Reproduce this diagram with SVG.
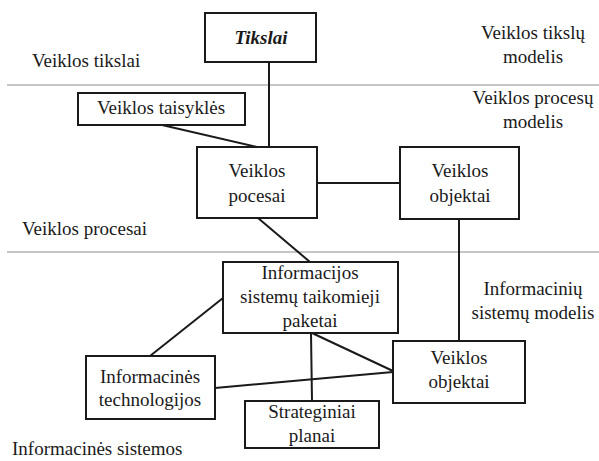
<svg xmlns="http://www.w3.org/2000/svg" width="599" height="461" viewBox="0 0 599 461" font-family="Liberation Serif, DejaVu Serif, serif" font-size="19">
  <style>
    .box { fill: #fff; stroke: #1a1a1a; stroke-width: 2; }
    .link { stroke: #1a1a1a; stroke-width: 2; fill: none; }
    .sep { stroke: #8c8c8c; stroke-width: 1.2; }
    text { fill: #1a1a1a; }
    .c { text-anchor: middle; }
    .title { font-weight: bold; font-style: italic; }
  </style>

  <!-- layer separators -->
  <g id="separators">
    <line class="sep" x1="7" y1="85" x2="599" y2="85"/>
    <line class="sep" x1="7" y1="252" x2="599" y2="252"/>
  </g>

  <!-- layer labels -->
  <g id="labels">
    <text x="32" y="67">Veiklos tikslai</text>
    <text x="22" y="235">Veiklos procesai</text>
    <text x="12" y="455">Informacinės sistemos</text>
    <text class="c" x="533" y="39">Veiklos tikslų</text>
    <text class="c" x="533" y="63">modelis</text>
    <text class="c" x="533" y="104">Veiklos procesų</text>
    <text class="c" x="533" y="128">modelis</text>
    <text class="c" x="533" y="295">Informacinių</text>
    <text class="c" x="533" y="319">sistemų modelis</text>
  </g>

  <!-- connectors -->
  <g id="connectors">
    <line class="link" x1="269" y1="62" x2="269" y2="147"/>
    <line class="link" x1="162" y1="125" x2="257" y2="147"/>
    <line class="link" x1="317" y1="183" x2="400" y2="183"/>
    <line class="link" x1="459" y1="219" x2="459" y2="341"/>
    <line class="link" x1="258" y1="218" x2="310" y2="262"/>
    <line class="link" x1="223" y1="298" x2="150" y2="356"/>
    <line class="link" x1="311" y1="333" x2="312" y2="401"/>
    <line class="link" x1="312" y1="333" x2="393" y2="371"/>
    <line class="link" x1="215" y1="388" x2="393" y2="372"/>
  </g>

  <!-- nodes -->
  <g id="tikslai">
    <rect class="box" x="205" y="13" width="111" height="49"/>
    <text class="c title" x="261" y="44">Tikslai</text>
  </g>
  <g id="veiklos-taisykles">
    <rect class="box" x="78" y="93" width="167" height="32"/>
    <text class="c" x="161" y="114">Veiklos taisyklės</text>
  </g>
  <g id="veiklos-pocesai">
    <rect class="box" x="197" y="147" width="120" height="71"/>
    <text class="c" x="257" y="177">Veiklos</text>
    <text class="c" x="257" y="202">pocesai</text>
  </g>
  <g id="veiklos-objektai-top">
    <rect class="box" x="400" y="147" width="119" height="72"/>
    <text class="c" x="460" y="177">Veiklos</text>
    <text class="c" x="460" y="202">objektai</text>
  </g>
  <g id="is-taikomieji-paketai">
    <rect class="box" x="223" y="262" width="175" height="71"/>
    <text class="c" x="310" y="279">Informacijos</text>
    <text class="c" x="310" y="303">sistemų taikomieji</text>
    <text class="c" x="310" y="327">paketai</text>
  </g>
  <g id="informacines-technologijos">
    <rect class="box" x="86" y="356" width="129" height="63"/>
    <text class="c" x="150" y="383">Informacinės</text>
    <text class="c" x="150" y="406">technologijos</text>
  </g>
  <g id="strateginiai-planai">
    <rect class="box" x="245" y="401" width="134" height="47"/>
    <text class="c" x="312" y="418">Strateginiai</text>
    <text class="c" x="312" y="442">planai</text>
  </g>
  <g id="veiklos-objektai-bottom">
    <rect class="box" x="393" y="341" width="132" height="62"/>
    <text class="c" x="459" y="364">Veiklos</text>
    <text class="c" x="459" y="388">objektai</text>
  </g>
</svg>
